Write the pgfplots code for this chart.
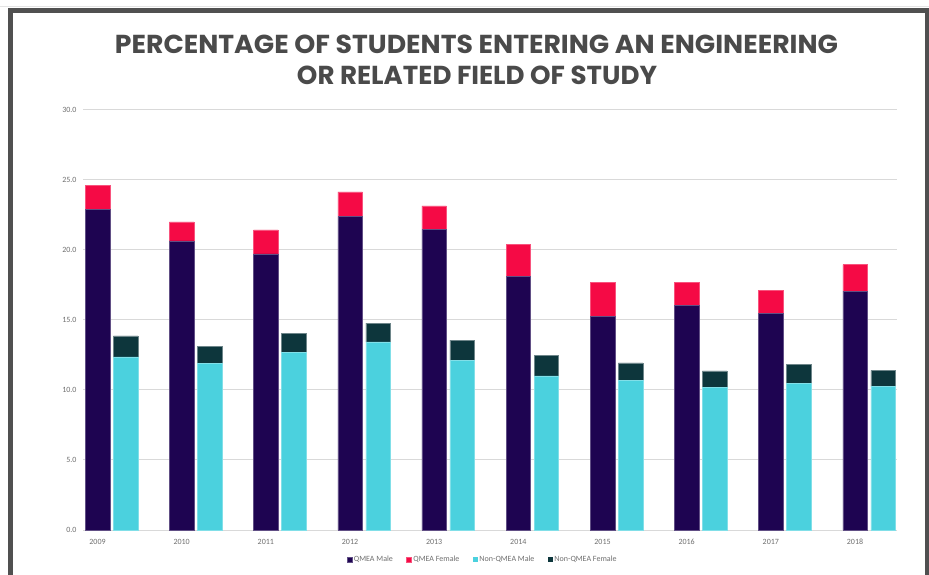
\documentclass[border=0pt]{standalone}
\usepackage{fontspec}
\setmainfont{Carlito}
\newfontfamily\titlefont{Poppins}
\usepackage{pgfplots}
\usepackage{pgfplotstable}
\pgfplotsset{compat=1.18}

\definecolor{qm}{HTML}{1E0451}
\definecolor{qf}{HTML}{F50A45}
\definecolor{nm}{HTML}{4BD1DE}
\definecolor{nf}{HTML}{0D363C}
\definecolor{gridc}{HTML}{D9D9D9}
\definecolor{txt}{HTML}{6F6F6F}
\definecolor{framec}{HTML}{505050}
\definecolor{titlec}{HTML}{4A4A4A}

\pgfplotstableread{
x qm qf
0 22.88 1.71
1 20.64 1.36
2 19.71 1.71
3 22.36 1.78
4 21.45 1.69
5 18.10 2.30
6 15.24 2.45
7 16.02 1.67
8 15.48 1.62
9 17.05 1.90
}\qmea

\pgfplotstableread{
x nm nf
0 12.36 1.50
1 11.90 1.20
2 12.69 1.36
3 13.43 1.33
4 12.10 1.45
5 11.00 1.45
6 10.67 1.26
7 10.19 1.17
8 10.48 1.35
9 10.24 1.16
}\nonqmea

\pgfplotsset{
  base/.style={scale only axis, width=814pt, height=420.3pt,
    at={(83pt,44pt)}, anchor=south west,
    xmin=-0.1723, xmax=9.499, ymin=0, ymax=30,
    ybar stacked, bar width=24.5pt},
  sqleg/.style={legend image code/.code={\fill[##1] (0pt,-2.5pt) rectangle (5pt,2.5pt);}}
}

\begin{document}
\begin{tikzpicture}[x=1pt,y=1pt]
\path[use as bounding box, fill=white] (0,0) rectangle (929,574);
\draw[gridc!70!white, line width=1pt] (0,567.5) -- (929,567.5);

\node[anchor=base, inner sep=0, text=titlec] at (476.5,520.5)
  {\resizebox{723pt}{18.5pt}{\titlefont\bfseries PERCENTAGE OF STUDENTS ENTERING AN ENGINEERING}};
\node[anchor=base, inner sep=0, text=titlec] at (477,489)
  {\resizebox{360pt}{18.5pt}{\titlefont\bfseries OR RELATED FIELD OF STUDY}};

\begin{axis}[base,
  ymajorgrids, grid style={gridc, line width=1pt},
  ytick={0,5,...,30}, xtick={0,...,9},
  xticklabels={2009,2010,2011,2012,2013,2014,2015,2016,2017,2018},
  major tick length=0pt, axis line style={draw=none},
  tick label style={font=\fontsize{8}{9}\selectfont, text=txt},
  yticklabel style={xshift=-3pt},
  xticklabel style={anchor=base, yshift=-14pt},
  /pgf/number format/.cd, fixed, fixed zerofill, precision=1, assume math mode=true,
  /pgfplots/.cd,
  legend style={at={(0.4908,-0.0707)}, anchor=center, draw=none, fill=none,
    font=\fontsize{8}{9}\selectfont, text=txt, legend columns=4,
    /tikz/every even column/.append style={column sep=12pt},
    nodes={inner sep=1.5pt}},
  legend cell align=left,
]
\addplot[fill=qm, draw=qm!70!white, line width=0.5pt, sqleg] table[x=x, y=qm] {\qmea};
\addlegendentry{QMEA Male}
\addplot[fill=qf, draw=qf!70!white, line width=0.5pt, sqleg] table[x=x, y=qf] {\qmea};
\addlegendentry{QMEA Female}
\addlegendimage{fill=nm, draw=none, sqleg}
\addlegendentry{Non-QMEA Male}
\addlegendimage{fill=nf, draw=none, sqleg}
\addlegendentry{Non-QMEA Female}
\end{axis}

\begin{axis}[base, bar shift=28pt, hide axis]
\addplot[fill=nm, draw=nm!70!white, line width=0.5pt, bar shift=28pt] table[x=x, y=nm] {\nonqmea};
\addplot[fill=nf, draw=nf!60!white, line width=0.5pt, bar shift=28pt] table[x=x, y=nf] {\nonqmea};
\end{axis}

\draw[framec, line width=5pt] (10.5,-10) -- (10.5,563) -- (927,563) -- (927,-10);
\end{tikzpicture}
\end{document}
